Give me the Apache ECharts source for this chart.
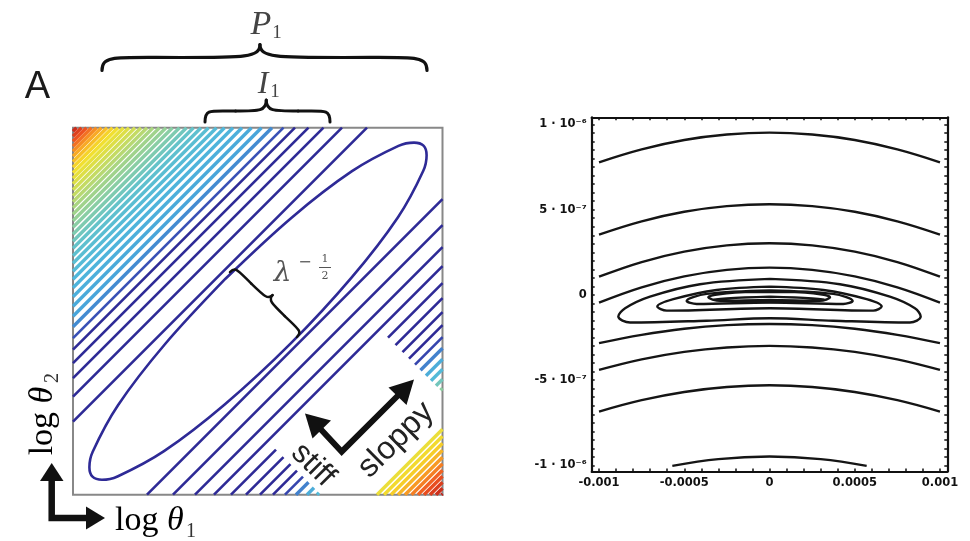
<!DOCTYPE html>
<html><head><meta charset="utf-8">
<script src="https://cdn.jsdelivr.net/npm/echarts@6/dist/echarts.min.js"></script>
<style>html,body{margin:0;padding:0;background:#fff}#c{width:970px;height:541px}</style>
</head><body><div id="c"></div>
<script>
// ---------- Panel A data (local units, origin at bottom-left of the box) ----------
// stripe contour lines y = x + b (upper-left side, b>0)
const stripeOffsetsUpper = [73, 98, 116.5, 131.5, 145, 156.5, 168, 178.5, 188.5, 198, 207, 215.5, 223.5, 231.5, 239, 246.5, 253.5, 260.5, 267.5, 274, 280.5, 287, 293, 299, 305, 311, 316.5, 322, 327.5, 333, 338.5, 343.5, 348.5, 353.5, 358.5, 363.5];
// lower-right side, b<0
const stripeOffsetsLower = [-74, -100, -122, -141, -158, -173, -187, -200, -212, -223, -234, -244, -254, -263, -272, -280, -288, -296, -304, -311, -318, -325, -332, -338.5, -345, -351, -357, -363, -368.5];
// innermost elliptical contour, points read around the loop
const ellipsePts = [[152.5,216.0],[91.7,150.2],[45.0,89.5],[19.7,43.0],[16.4,27.5],[19.5,18.0],[29.0,14.9],[44.5,18.2],[91.0,43.5],[151.7,90.2],[217.5,151.0],[278.3,216.8],[325.0,277.5],[350.3,324.0],[353.6,339.5],[350.5,349.0],[341.0,352.1],[325.5,348.8],[279.0,323.5],[218.3,276.8],[152.5,216.0]];

// ---------- Right panel data ----------
const xTickVals = [-0.001, -0.0005, 0, 0.0005, 0.001];
const xTickLabels = ['-0.001', '-0.0005', '0', '0.0005', '0.001'];
const yTickVals = [-1e-6, -5e-7, 0, 5e-7, 1e-6];
const yTickLabels = ['-1 · 10⁻⁶', '-5 · 10⁻⁷', '0', '5 · 10⁻⁷', '1 · 10⁻⁶'];
const arcX = [-0.001, -0.00075, -0.0005, -0.00025, 0, 0.00025, 0.0005, 0.00075, 0.001];
const arc1 = [0.778e-6, 0.854e-6, 0.909e-6, 0.941e-6, 0.952e-6, 0.941e-6, 0.909e-6, 0.854e-6, 0.778e-6];
const arc2 = [0.354e-6, 0.432e-6, 0.488e-6, 0.521e-6, 0.532e-6, 0.521e-6, 0.488e-6, 0.432e-6, 0.354e-6];
const arc3 = [0.107e-6, 0.193e-6, 0.254e-6, 0.291e-6, 0.303e-6, 0.291e-6, 0.254e-6, 0.193e-6, 0.107e-6];
const arc4 = [-0.045e-6, 0.045e-6, 0.109e-6, 0.147e-6, 0.160e-6, 0.147e-6, 0.109e-6, 0.045e-6, -0.045e-6];
const arc5 = [-0.283e-6, -0.234e-6, -0.198e-6, -0.177e-6, -0.170e-6, -0.177e-6, -0.198e-6, -0.234e-6, -0.283e-6];
const arc6 = [-0.440e-6, -0.378e-6, -0.334e-6, -0.308e-6, -0.299e-6, -0.308e-6, -0.334e-6, -0.378e-6, -0.440e-6];
const arc7 = [-0.684e-6, -0.617e-6, -0.569e-6, -0.540e-6, -0.530e-6, -0.540e-6, -0.569e-6, -0.617e-6, -0.684e-6];
const arc8X = [-0.00057, -0.0003, 0, 0.0003, 0.00057];
const arc8 = [-1.003e-6, -0.963e-6, -0.948e-6, -0.963e-6, -1.003e-6];
// closed contours: [x (1e-3), y (1e-6)]
const loop1 = [[0.003,0.094],[0.413,0.063],[0.706,-0.010],[0.853,-0.078],[0.887,-0.127],[0.824,-0.162],[0.374,-0.151],[0.003,-0.137],[-0.369,-0.151],[-0.818,-0.162],[-0.887,-0.127],[-0.847,-0.078],[-0.701,-0.010],[-0.408,0.063],[0.003,0.094]];
const loop2 = [[0.003,0.049],[0.316,0.029],[0.570,-0.025],[0.658,-0.068],[0.609,-0.092],[0.003,-0.078],[-0.603,-0.092],[-0.658,-0.068],[-0.564,-0.025],[-0.310,0.029],[0.003,0.049]];
const loop3 = [[0.003,0.027],[0.374,0.006],[0.488,-0.035],[0.433,-0.053],[0.003,-0.045],[-0.427,-0.053],[-0.486,-0.035],[-0.369,0.006],[0.003,0.027]];
const loop4 = [[0.003,0.018],[0.257,0.010],[0.355,-0.014],[0.296,-0.035],[0.003,-0.029],[-0.290,-0.035],[-0.359,-0.014],[-0.251,0.010],[0.003,0.018]];
const loop5 = [[0.003,-0.010],[0.326,-0.025],[0.003,-0.041],[-0.329,-0.025],[0.003,-0.010]];

// ---------- build ----------
const W = 369.5, H = 367;
const maskB = [-302, -148], maskS = [248, 472];
const stopsUpper = [[0,'#2e2a96'],[145,'#2e2a96'],[160,'#3b5cc0'],[172,'#47a2da'],[215,'#50b8db'],[245,'#62c2cc'],[265,'#86cda8'],[288,'#acd67f'],[308,'#d8df4c'],[324,'#f5e02c'],[340,'#f8a325'],[353,'#ef5520'],[367,'#c02019']];
const stopsLower = [[0,'#2e2a96'],[205,'#2e2a96'],[218,'#3b5cc0'],[228,'#48a6da'],[245,'#55bbd8'],[258,'#80cbb0'],[272,'#a8d488'],[300,'#e8e040'],[315,'#f5d82a'],[330,'#f8a325'],[348,'#ef5520'],[369,'#c02019']];
function hex(c){return [parseInt(c.slice(1,3),16),parseInt(c.slice(3,5),16),parseInt(c.slice(5,7),16)];}
function colorFor(v, stops){
  for(let i=1;i<stops.length;i++){
    if(v<=stops[i][0]){const a=stops[i-1],b=stops[i];const t=(v-a[0])/(b[0]-a[0]);const A=hex(a[1]),B=hex(b[1]);
      return 'rgb('+A.map((x,k)=>Math.round(x+(B[k]-x)*t)).join(',')+')';}
  }
  return stops[stops.length-1][1];
}
const stripeData = [];
function addStripe(b, masked, stops, darkLim){
  const xs = Math.max(0,-b), xe = Math.min(W, H-b);
  if (xe <= xs) return;
  const ab = Math.abs(b);
  const col = colorFor(ab, stops);
  const lw = ab < darkLim ? 2.6 : 3.4;
  let ranges = [[xs,xe]];
  if (masked && b >= maskB[0] && b <= maskB[1]) {
    const m0 = (maskS[0]-b)/2, m1 = (maskS[1]-b)/2;
    ranges = [];
    if (m0 > xs) ranges.push([xs, Math.min(m0,xe)]);
    if (m1 < xe) ranges.push([Math.max(m1,xs), xe]);
  }
  ranges.forEach(r=>stripeData.push({coords:[[r[0],r[0]+b],[r[1],r[1]+b]], lineStyle:{color:col, width:lw}}));
}
stripeOffsetsUpper.forEach(b=>addStripe(b,false,stopsUpper,160));
stripeOffsetsLower.forEach(b=>addStripe(b,true,stopsLower,215));

const series = [
  {type:'lines', coordinateSystem:'cartesian2d', xAxisIndex:0, yAxisIndex:0, polyline:false, silent:true,
   lineStyle:{width:2.6, opacity:1}, data:stripeData, z:2},
  {type:'line', xAxisIndex:0, yAxisIndex:0, data:ellipsePts, smooth:0.35, showSymbol:false, symbol:'none',
   lineStyle:{color:'#2e2a96', width:2.6}, z:3}
];
const blk = {color:'#151515', width:2.4};
[arc1,arc2,arc3,arc4,arc5,arc6,arc7].forEach(a=>{
  series.push({type:'line', xAxisIndex:1, yAxisIndex:1, data:arcX.map((x,i)=>[x,a[i]]), smooth:0.4, symbol:'none', lineStyle:blk});
});
series.push({type:'line', xAxisIndex:1, yAxisIndex:1, data:arc8X.map((x,i)=>[x,arc8[i]]), smooth:0.4, symbol:'none', lineStyle:blk});
[loop1,loop2,loop3,loop4,loop5].forEach(l=>{
  series.push({type:'line', xAxisIndex:1, yAxisIndex:1, data:l.map(p=>[p[0]*1e-3,p[1]*1e-6]), smooth:0.35, symbol:'none', lineStyle:blk});
});

const xMinor=[], yMinor=[];
for(let i=-10;i<=10;i++) xMinor.push(i*1e-4);
for(let i=-20;i<=20;i++) yMinor.push(i*5e-8);
function lab(vals, labels){return v=>{for(let i=0;i<vals.length;i++){if(Math.abs(v-vals[i])<1e-12)return labels[i];}return '';};}
const lblStyle = {fontFamily:'DejaVu Sans', fontWeight:'bold', fontSize:11.5, color:'#111'};
const XR=[-1.043e-3,1.043e-3], YR=[-1.035e-6,1.042e-6];

// ---------- annotations ----------
const G = [];
function txt(x,y,text,o){const e={type:'text',x:x,y:y,z:100,style:Object.assign({text:text,align:'center',verticalAlign:'middle',fill:'#333'},o||{})};if(o&&o.__rot!=null){e.rotation=o.__rot;delete e.style.__rot;}G.push(e);}
function bz(a,b,c,d,lw){G.push({type:'bezierCurve',z:100,shape:{x1:a[0],y1:a[1],cpx1:b[0],cpy1:b[1],cpx2:c[0],cpy2:c[1],x2:d[0],y2:d[1]},style:{stroke:'#111',lineWidth:lw,fill:null,lineCap:'round'}});}
function brace(p0,p1,d,c,lw){
  const dx=p1[0]-p0[0],dy=p1[1]-p0[1],L=Math.hypot(dx,dy),ux=dx/L,uy=dy/L,nx=uy,ny=-ux;
  const P=(s,t)=>[p0[0]+ux*s*L+nx*t*d,p0[1]+uy*s*L+ny*t*d];
  bz(P(0,0),P(0,0.6),P(0.04,0.5),P(c*0.5,0.5),lw);
  bz(P(c*0.5,0.5),P(c*0.9,0.5),P(c,0.5),P(c,1),lw);
  bz(P(c,1),P(c,0.5),P(c+(1-c)*0.1,0.5),P(c+(1-c)*0.5,0.5),lw);
  bz(P(c+(1-c)*0.5,0.5),P(0.96,0.5),P(1,0.6),P(1,0),lw);
}
function poly(pts){G.push({type:'polygon',z:100,shape:{points:pts},style:{fill:'#111'}});}
function pline(pts,lw){G.push({type:'polyline',z:100,shape:{points:pts},style:{stroke:'#111',lineWidth:lw,lineJoin:'miter',fill:null}});}

txt(37.5,88,'A',{fontFamily:'Liberation Sans',fontSize:38,fill:'#1a1a1a'});
brace([102,70.5],[427,70.5],26,0.486,3.2);
brace([205,122],[330,122],22,0.49,3);
txt(261,25,'P',{fontFamily:'Liberation Serif',fontStyle:'italic',fontSize:34,fill:'#444'});
txt(277,33,'1',{fontFamily:'Liberation Serif',fontSize:19,fill:'#444'});
txt(263,85,'I',{fontFamily:'Liberation Serif',fontStyle:'italic',fontSize:32,fill:'#444'});
txt(275,92,'1',{fontFamily:'Liberation Serif',fontSize:19,fill:'#444'});
brace([230,272],[297,337],13,0.5,2.5);
txt(282.5,273.5,'λ',{fontFamily:'DejaVu Serif',fontStyle:'italic',fontSize:28,fill:'#555'});
txt(305,263,'−',{fontFamily:'DejaVu Serif',fontSize:16,fill:'#555'});
txt(325,259,'1',{fontFamily:'DejaVu Serif',fontSize:11,fill:'#555'});
txt(325,276,'2',{fontFamily:'DejaVu Serif',fontSize:11,fill:'#555'});
G.push({type:'line',z:100,shape:{x1:319,y1:267.5,x2:331,y2:267.5},style:{stroke:'#555',lineWidth:1}});
txt(313,465,'stiff',{fontFamily:'Liberation Sans',fontSize:31,fill:'#222',__rot:-Math.PI/4});
txt(396,440,'sloppy',{fontFamily:'Liberation Sans',fontSize:32,fill:'#222',__rot:Math.PI/4});
// stiff / sloppy arrows
pline([[320.5,429],[341.7,451.7],[399,394.5]],6);
poly([[305,413.5],[331,420.5],[312.5,438.5]]);
poly([[414,379.5],[406.5,405],[388.5,387.5]]);
// axis arrows
pline([[51.7,478],[51.7,518],[88,518]],6.5);
poly([[40,481],[63.5,481],[51.7,463]]);
poly([[86,506.5],[86,529.5],[105,518]]);
const richLog = {r:{fontFamily:'Liberation Serif',fontSize:34,color:'#333'},i:{fontFamily:'Liberation Serif',fontStyle:'italic',fontSize:34,color:'#333'}};
G.push({type:'text',x:115,y:521,z:100,style:{text:'{r|log }{i|θ}',align:'left',verticalAlign:'middle',rich:richLog}});
txt(191,532,'1',{fontFamily:'Liberation Serif',fontSize:20,fill:'#333'});
G.push({type:'text',x:43.5,y:421,z:100,rotation:Math.PI/2,style:{text:'{r|log }{i|θ}',align:'center',verticalAlign:'middle',rich:richLog}});
txt(53,378,'2',{fontFamily:'Liberation Serif',fontSize:20,fill:'#333',__rot:Math.PI/2});

const chart = echarts.init(document.getElementById('c'), null, {renderer:'canvas'});
const tickCommon = {inside:true, length:3, lineStyle:{color:'#111',width:1.5}};
chart.setOption({
  animation:false,
  backgroundColor:'#fff',
  grid:[
    {left:73, top:127.7, width:W, height:H, show:true, borderColor:'#888', borderWidth:2, backgroundColor:'#fff', outerBoundsMode:'none'},
    {left:591.7, top:117.3, width:355.6, height:354.1, show:false, outerBoundsMode:'none'}
  ],
  xAxis:[
    {gridIndex:0, type:'value', min:0, max:W, show:false},
    {gridIndex:1, type:'value', min:XR[0], max:XR[1], position:'bottom',
     axisLine:{show:true, onZero:false, lineStyle:{color:'#111',width:2.2}},
     axisTick:Object.assign({customValues:xMinor}, tickCommon),
     axisLabel:Object.assign({customValues:xTickVals, formatter:lab(xTickVals,xTickLabels), margin:6, showMinLabel:true, showMaxLabel:true}, lblStyle),
     splitLine:{show:false}},
    {gridIndex:1, type:'value', min:XR[0], max:XR[1], position:'top',
     axisLine:{show:true, onZero:false, lineStyle:{color:'#111',width:2.2}},
     axisTick:Object.assign({customValues:xMinor}, tickCommon),
     axisLabel:{show:false}, splitLine:{show:false}}
  ],
  yAxis:[
    {gridIndex:0, type:'value', min:0, max:H, show:false},
    {gridIndex:1, type:'value', min:YR[0], max:YR[1], position:'left',
     axisLine:{show:true, onZero:false, lineStyle:{color:'#111',width:2.2}},
     axisTick:Object.assign({customValues:yMinor}, tickCommon),
     axisLabel:Object.assign({customValues:yTickVals, formatter:lab(yTickVals,yTickLabels), margin:5}, lblStyle),
     splitLine:{show:false}},
    {gridIndex:1, type:'value', min:YR[0], max:YR[1], position:'right',
     axisLine:{show:true, onZero:false, lineStyle:{color:'#111',width:2.2}},
     axisTick:Object.assign({customValues:yMinor}, tickCommon),
     axisLabel:{show:false}, splitLine:{show:false}}
  ],
  series: series,
  graphic: G
});
</script></body></html>
